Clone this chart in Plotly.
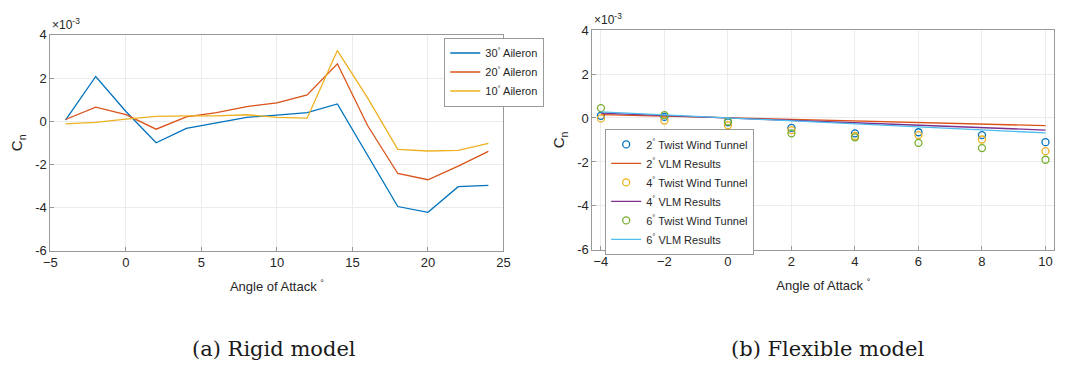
import plotly.graph_objects as go

# ---------------- data (values in units of 1e-3) ----------------
SCALE = 1e-3

# (a) rigid model
aoa_rigid = [-4, -2, 0, 2, 4, 6, 8, 10, 12, 14, 16, 18, 20, 22, 24]
cn_30_aileron = [0.05, 2.07, 0.45, -1.00, -0.33, -0.08, 0.18, 0.28, 0.40, 0.80, -1.60, -3.95, -4.22, -3.03, -2.97]
cn_20_aileron = [0.08, 0.65, 0.30, -0.37, 0.20, 0.40, 0.68, 0.85, 1.22, 2.66, -0.20, -2.42, -2.71, -2.08, -1.40]
cn_10_aileron = [-0.12, -0.05, 0.10, 0.22, 0.25, 0.25, 0.30, 0.18, 0.14, 3.27, 1.08, -1.30, -1.38, -1.35, -1.03]

# (b) flexible model
aoa_flex = [-4, -2, 0, 2, 4, 6, 8, 10]
wt_2twist = [0.10, 0.05, -0.20, -0.45, -0.70, -0.65, -0.78, -1.10]
wt_4twist = [-0.02, -0.12, -0.33, -0.55, -0.82, -0.78, -0.98, -1.51]
wt_6twist = [0.45, 0.13, -0.16, -0.70, -0.88, -1.13, -1.37, -1.90]
vlm_2twist = [0.15, 0.08, 0.00, -0.07, -0.14, -0.21, -0.28, -0.35]
vlm_4twist = [0.22, 0.11, 0.00, -0.11, -0.22, -0.33, -0.44, -0.55]
vlm_6twist = [0.28, 0.14, 0.00, -0.14, -0.27, -0.41, -0.55, -0.68]

ytick_vals = [-6, -4, -2, 0, 2, 4]
xtick_rigid = [-5, 0, 5, 10, 15, 20, 25]
xtick_flex = [-4, -2, 0, 2, 4, 6, 8, 10]

# MATLAB default colours
C1, C2, C3, C4, C5, C6 = "#0072BD", "#D95319", "#EDB120", "#7E2F8E", "#77AC30", "#4DBEEE"


def sc(v):
    return [x * SCALE for x in v]


fig = go.Figure()

# rigid
for name, vals, col in [("30<sup>°</sup> Aileron", cn_30_aileron, C1),
                        ("20<sup>°</sup> Aileron", cn_20_aileron, C2),
                        ("10<sup>°</sup> Aileron", cn_10_aileron, C3)]:
    fig.add_trace(go.Scatter(x=aoa_rigid, y=sc(vals), mode="lines", name=name,
                             line=dict(color=col, width=1.3), xaxis="x", yaxis="y",
                             legend="legend"))

# flexible
flex = [("2<sup>°</sup> Twist Wind Tunnel", wt_2twist, C1, "markers"),
        ("2<sup>°</sup> VLM Results", vlm_2twist, C2, "lines"),
        ("4<sup>°</sup> Twist Wind Tunnel", wt_4twist, C3, "markers"),
        ("4<sup>°</sup> VLM Results", vlm_4twist, C4, "lines"),
        ("6<sup>°</sup> Twist Wind Tunnel", wt_6twist, C5, "markers"),
        ("6<sup>°</sup> VLM Results", vlm_6twist, C6, "lines")]
for name, vals, col, mode in flex:
    if mode == "markers":
        fig.add_trace(go.Scatter(x=aoa_flex, y=sc(vals), mode="markers", name=name,
                                 marker=dict(symbol="circle-open", size=7, color=col,
                                             line=dict(width=1.3, color=col)),
                                 xaxis="x2", yaxis="y2", legend="legend2"))
    else:
        fig.add_trace(go.Scatter(x=aoa_flex, y=sc(vals), mode="lines", name=name,
                                 line=dict(color=col, width=1.3),
                                 xaxis="x2", yaxis="y2", legend="legend2"))

FONT = "Liberation Sans, Arial, sans-serif"
TXT = "#262626"
axis_common = dict(showline=True, mirror=True, linecolor="#999999", linewidth=1,
                   ticks="inside", ticklen=4, tickcolor="#999999",
                   showgrid=True, gridcolor="#ebebeb", gridwidth=1, zeroline=False,
                   tickfont=dict(family=FONT, size=13, color=TXT))

yt = [v * SCALE for v in ytick_vals]
ytt = [str(v) for v in ytick_vals]

xtitle = dict(text="Angle of Attack <sup>°</sup>", standoff=12,
              font=dict(family=FONT, size=13, color=TXT))
ytitle = dict(text="C<sub>n</sub>", standoff=8,
              font=dict(family=FONT, size=15, color=TXT))

fig.update_layout(
    width=1091, height=374,
    margin=dict(l=0, r=0, t=0, b=0),
    paper_bgcolor="white", plot_bgcolor="white",
    font=dict(family=FONT, size=12, color=TXT),
    xaxis=dict(domain=[0.0403, 0.4610], range=[-5, 25], tickvals=xtick_rigid,
               title=xtitle, anchor="y", **axis_common),
    yaxis=dict(domain=[0.3209, 0.9225], range=[-6e-3, 4e-3], tickvals=yt, ticktext=ytt,
               title=ytitle, anchor="x", **axis_common),
    xaxis2=dict(domain=[0.5435, 0.9725], range=[-4.27, 10.28], tickvals=xtick_flex,
                title=xtitle, anchor="y2", **axis_common),
    yaxis2=dict(domain=[0.3235, 0.9358], range=[-6e-3, 4e-3], tickvals=yt, ticktext=ytt,
                title=ytitle, anchor="x2", **axis_common),
    legend=dict(x=0.406, y=0.915, xanchor="left", yanchor="top",
                bgcolor="white", bordercolor="#999999", borderwidth=1,
                font=dict(family=FONT, size=11, color=TXT),
                tracegroupgap=0, itemwidth=30),
    legend2=dict(x=0.5554, y=0.6604, xanchor="left", yanchor="top",
                 bgcolor="white", bordercolor="#999999", borderwidth=1,
                 font=dict(family=FONT, size=11, color=TXT),
                 tracegroupgap=0, itemwidth=30),
    showlegend=True,
)

# exponent labels
fig.add_annotation(text="×10<sup>-3</sup>", xref="paper", yref="paper",
                   x=44 / 1091, y=(374 - 28) / 374, xanchor="left", yanchor="bottom",
                   showarrow=False, font=dict(family=FONT, size=12, color=TXT))
fig.add_annotation(text="×10<sup>-3</sup>", xref="paper", yref="paper",
                   x=593 / 1091, y=(374 - 23) / 374, xanchor="left", yanchor="bottom",
                   showarrow=False, font=dict(family=FONT, size=12, color=TXT))

# captions
CAPFONT = dict(family="DejaVu Serif, serif", size=21, color="#1a1a1a")
fig.add_annotation(text="(a) Rigid model", xref="paper", yref="paper",
                   x=270 / 1091, y=(374 - 356) / 374, xanchor="center", yanchor="middle",
                   showarrow=False, font=CAPFONT)
fig.add_annotation(text="(b) Flexible model", xref="paper", yref="paper",
                   x=831 / 1091, y=(374 - 356) / 374, xanchor="center", yanchor="middle",
                   showarrow=False, font=CAPFONT)

fig.write_html("out.html")
